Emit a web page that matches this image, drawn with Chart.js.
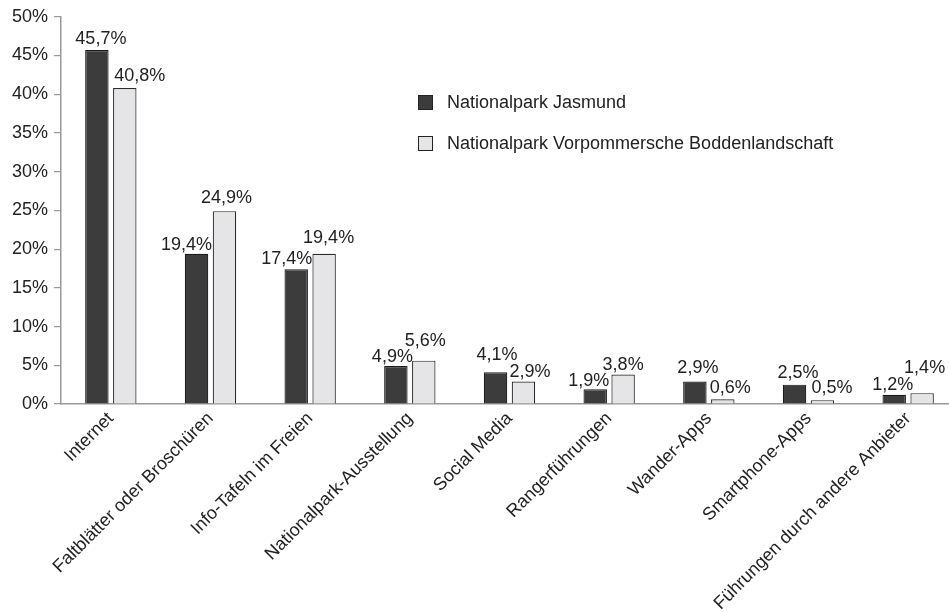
<!DOCTYPE html>
<html><head><meta charset="utf-8">
<script src="https://cdn.jsdelivr.net/npm/chart.js@4.4.1/dist/chart.umd.min.js"></script>
<style>
html,body{margin:0;padding:0;background:#fff;overflow:hidden;}
#wrap{width:958px;height:612px;position:relative;}
</style></head>
<body><div id="wrap"><canvas id="c" width="958" height="612"></canvas></div>
<script>
const categories = ["Internet","Faltblätter oder Broschüren","Info-Tafeln im Freien","Nationalpark-Ausstellung","Social Media","Rangerführungen","Wander-Apps","Smartphone-Apps","Führungen durch andere Anbieter"];
const jasmund = [45.7,19.4,17.4,4.9,4.1,1.9,2.9,2.5,1.2];
const vorpommern = [40.8,24.9,19.4,5.6,2.9,3.8,0.6,0.5,1.4];
const seriesNames = ["Nationalpark Jasmund","Nationalpark Vorpommersche Boddenlandschaft"];
const yTicks = [0,5,10,15,20,25,30,35,40,45,50];

const FONT = "'Liberation Sans', Arial, sans-serif";
const fmt = v => v.toFixed(1).replace('.', ',') + '%';

// label placement nudges (pixels) as in the reference layout
const labelNudge = {
  dx: [[4,-10,-9.5,-3.5,1.5,-6.5,3,3.5,-1.5],[15,2,4.5,1.5,6.5,0,7.5,9.5,2.5]],
  gap: [[6,4,5,4,12,3,9,7,5],[7,8,11,15,5,5,6,7,20]]
};

const valueLabels = {
  id:'valueLabels',
  afterDatasetsDraw(chart){
    const ctx = chart.ctx;
    ctx.save();
    ctx.font = "18px " + FONT;
    ctx.fillStyle = '#222';
    ctx.textAlign = 'center';
    ctx.textBaseline = 'alphabetic';
    chart.data.datasets.forEach((ds,i)=>{
      chart.getDatasetMeta(i).data.forEach((bar,j)=>{
        ctx.fillText(fmt(ds.data[j]), bar.x + labelNudge.dx[i][j], bar.y - labelNudge.gap[i][j]);
      });
    });
    ctx.restore();
  }
};
const customLegend = {
  id:'customLegend',
  afterDraw(chart){
    const ctx = chart.ctx;
    ctx.save();
    ctx.font = "18px " + FONT;
    ctx.textBaseline = 'middle';
    ctx.textAlign = 'left';
    const ys = [103, 144];
    chart.data.datasets.forEach((ds,i)=>{
      ctx.fillStyle = ds.backgroundColor;
      ctx.fillRect(418.5, ys[i]-7.5, 14, 14);
      ctx.strokeStyle = '#222';
      ctx.lineWidth = 1;
      ctx.strokeRect(418.5, ys[i]-7.5, 14, 14);
      ctx.fillStyle = '#222';
      ctx.fillText(ds.label, 447, ys[i]);
    });
    ctx.restore();
  }
};

new Chart(document.getElementById('c'), {
  type:'bar',
  data:{
    labels: categories,
    datasets:[
      {label:seriesNames[0], data:jasmund, backgroundColor:'#3c3c3c', borderColor:'#1a1a1a', borderWidth:1.2},
      {label:seriesNames[1], data:vorpommern, backgroundColor:'#e5e5e7', borderColor:'#2a2a2a', borderWidth:1.2}
    ]
  },
  options:{
    responsive:false,
    animation:false,
    devicePixelRatio:1,
    layout:{padding:{top:16,left:0,right:0,bottom:0}},
    datasets:{bar:{categoryPercentage:0.56, barPercentage:0.84}},
    plugins:{legend:{display:false}, tooltip:{enabled:false}},
    scales:{
      x:{
        grid:{display:false, drawTicks:false},
        border:{display:true,color:'#999',width:1.5},
        ticks:{maxRotation:45,minRotation:45,autoSkip:false,color:'#222',font:{family:FONT,size:18},padding:4},
        afterFit(s){ s.height = 208; }
      },
      y:{
        min:0,max:50,
        afterBuildTicks(s){ s.ticks = yTicks.map(v=>({value:v})); },
        grid:{drawOnChartArea:false, drawTicks:true, tickLength:7, color:'#999', lineWidth:1.2},
        border:{display:true,color:'#999',width:1.5},
        ticks:{color:'#222',font:{family:FONT,size:18},padding:6,callback:v=>v+'%'},
        afterFit(s){ s.width = 61; }
      }
    }
  },
  plugins:[valueLabels, customLegend]
});
</script></body></html>
